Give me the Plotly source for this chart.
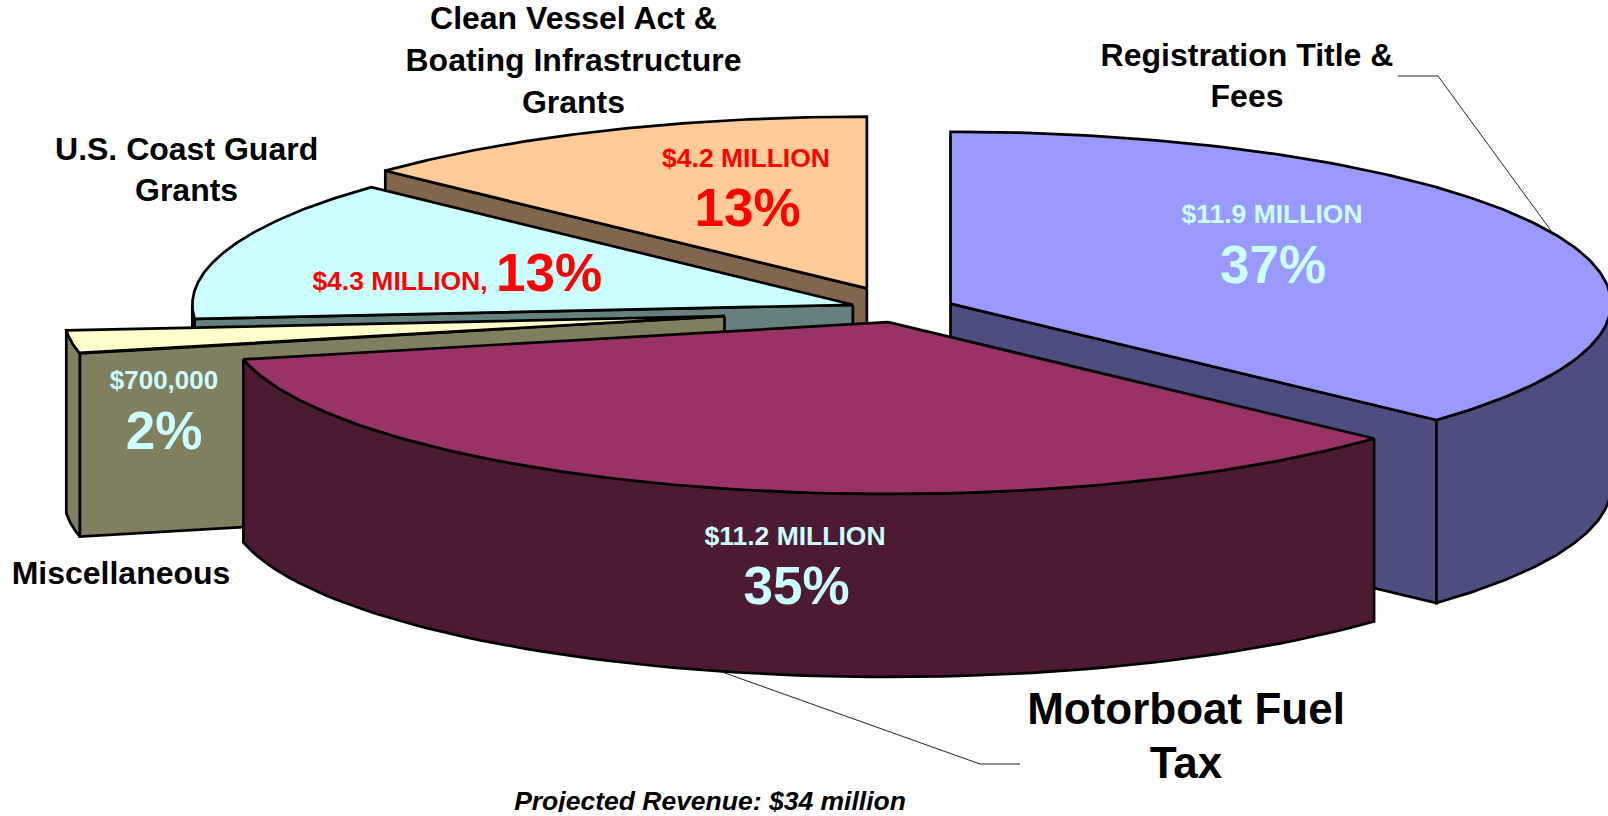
import numpy as np
import plotly.graph_objects as go

# --- data ---
categories = ["Registration Title & Fees", "Motorboat Fuel Tax", "Miscellaneous",
              "U.S. Coast Guard Grants", "Clean Vessel Act & Boating Infrastructure Grants"]
values_millions = [11.9, 11.2, 0.7, 4.3, 4.2]
top_colors = ["#9999FF", "#993366", "#FFFFCC", "#CCFFFF", "#FFCC99"]
wall_colors = ["#4D4D80", "#4D1A33", "#808060", "#668080", "#80664D"]
explode_share = [0.081, 0.078, 0.271, 0.078, 0.132]

cat_labels = ["Clean Vessel Act &<br>Boating Infrastructure<br>Grants",
              "Registration Title &<br>Fees", "U.S. Coast Guard<br>Grants",
              "Miscellaneous", "Motorboat Fuel", "Tax"]
value_labels = ["$4.2 MILLION", "13%", "$11.9 MILLION", "37%", "$11.2 MILLION", "35%",
                "$700,000", "2%", "$4.3 MILLION,", "13%"]
footnote = "Projected Revenue: $34 million"

# --- pie geometry (layout settings) ---
W, H = 1608, 816
CLIP_BOTTOM = 4
CX, CY = 901.5, 309.2
RX, RY = 660.5, 171.8
DEPTH = 183
TILT = RY / RX

totals = np.cumsum([0] + values_millions)
starts = -90 + 360 * totals[:-1] / totals[-1]
ends = -90 + 360 * totals[1:] / totals[-1]

fig = go.Figure()


def poly(xs, ys, fill):
    fig.add_trace(go.Scatter(x=xs, y=ys, mode="lines", fill="toself", fillcolor=fill,
                             line=dict(color="black", width=2.7), hoverinfo="skip",
                             showlegend=False))


def edge(ax, ay, deg):
    t = np.radians(deg)
    return ax + RX * np.cos(t), ay + RY * np.sin(t)


# back-to-front painting order
for i in [4, 3, 2, 0, 1]:
    s, e = starts[i], ends[i]
    mid = np.radians((s + e) / 2)
    dist = explode_share[i] * RX
    ax = CX + dist * np.cos(mid)
    ay = CY + dist * np.sin(mid) * TILT
    # radial walls facing the viewer
    if np.cos(np.radians(s)) < -1e-6:
        x1, y1 = edge(ax, ay, s)
        poly([ax, x1, x1, ax, ax], [ay, y1, y1 + DEPTH, ay + DEPTH, ay], wall_colors[i])
    if np.cos(np.radians(e)) > 1e-6:
        x1, y1 = edge(ax, ay, e)
        poly([ax, x1, x1, ax, ax], [ay, y1, y1 + DEPTH, ay + DEPTH, ay], wall_colors[i])
    # curved outer wall (front half only)
    lo, hi = max(s, 0), min(e, 180)
    if hi > lo:
        ts = np.linspace(lo, hi, 80)
        xs, ys = edge(ax, ay, ts)
        poly(np.r_[xs, xs[::-1], xs[0]], np.r_[ys, ys[::-1] + DEPTH, ys[0]], wall_colors[i])
    # top face
    ts = np.linspace(s, e, 160)
    xs, ys = edge(ax, ay, ts)
    poly(np.r_[ax, xs, ax], np.r_[ay, ys, ay], top_colors[i])

# leader lines
for lx, ly in [([1398, 1438, 1552], [76, 76, 232]), ([722, 980, 1020], [672, 764, 764])]:
    fig.add_trace(go.Scatter(x=lx, y=ly, mode="lines", line=dict(color="#222", width=1),
                             hoverinfo="skip", showlegend=False))


def text(s, x, y, size, color, weight="bold", style="normal"):
    fig.add_trace(go.Scatter(x=[x], y=[y], mode="text", text=[s], textposition="middle center",
                             textfont=dict(family="Liberation Sans", size=size, color=color,
                                           weight=weight, style=style),
                             hoverinfo="skip", showlegend=False))


LIGHT, RED, BLACK = "#CCFFFF", "#FF0000", "#000000"
text(cat_labels[0], 573.5, 63, 32, BLACK)
text(cat_labels[1], 1247, 78.5, 32, BLACK)
text(cat_labels[2], 186.6, 172.5, 32, BLACK)
text(cat_labels[3], 121, 576, 32, BLACK)
text(cat_labels[4], 1186, 713, 44, BLACK)
text(cat_labels[5], 1186, 767, 44, BLACK)
text(value_labels[0], 746, 160, 26.5, RED)
text(value_labels[1], 747.6, 213, 53, RED)
text(value_labels[2], 1272, 216, 26.5, LIGHT)
text(value_labels[3], 1273, 270, 53, LIGHT)
text(value_labels[4], 795, 538.5, 26.5, LIGHT)
text(value_labels[5], 796.5, 590.6, 53, LIGHT)
text(value_labels[6], 164, 382.5, 26, LIGHT)
text(value_labels[7], 164, 436, 53, LIGHT)
text(value_labels[8], 400, 283, 26.5, RED)
text(value_labels[9], 549, 278, 53, RED)
text(footnote, 710, 803, 26.5, BLACK, style="italic")

fig.update_layout(width=W, height=H, margin=dict(l=0, r=0, t=0, b=CLIP_BOTTOM),
                  paper_bgcolor="white", plot_bgcolor="white", showlegend=False,
                  xaxis=dict(range=[0, W], visible=False, fixedrange=True),
                  yaxis=dict(range=[H - CLIP_BOTTOM, 0], visible=False, fixedrange=True))

fig.write_html("out.html", config=dict(displayModeBar=False),
               post_script="document.body.style.margin='0';document.body.style.overflow='hidden';")
